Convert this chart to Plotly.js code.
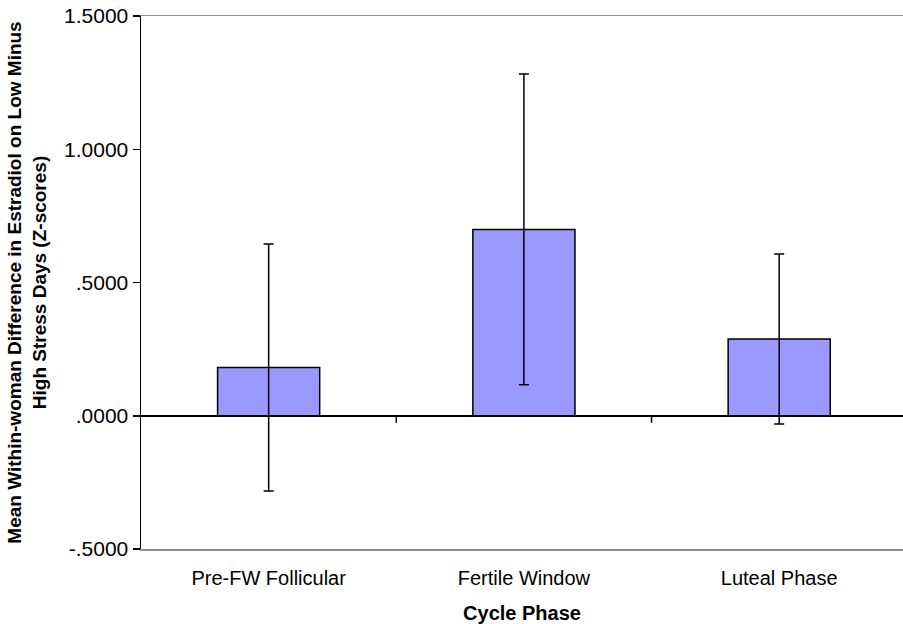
<!DOCTYPE html>
<html>
<head>
<meta charset="utf-8">
<script src="https://cdn.plot.ly/plotly-3.0.1.min.js"></script>
<style>html,body{margin:0;padding:0;background:#fff;}#chart{width:903px;height:624px;}</style>
</head>
<body>
<div id="chart"></div>
<script>
const categories = ["Pre-FW Follicular", "Fertile Window", "Luteal Phase"];
const meanDiff = [0.181, 0.699, 0.288];
const errorSize = [0.463, 0.583, 0.319];
const yTickVals = [-0.5, 0, 0.5, 1.0, 1.5];
const yTickText = ["-.5000", ".0000", ".5000", "1.0000", "1.5000"];

const font = "Liberation Sans, Arial, sans-serif";

const trace = {
  type: "bar",
  x: categories,
  y: meanDiff,
  width: 0.4,
  marker: { color: "#9999FF", line: { color: "#000000", width: 1.5 } },
  error_y: { type: "data", array: errorSize, visible: true, color: "#000000", thickness: 1.5, width: 5 },
  hoverinfo: "none"
};

const layout = {
  width: 903,
  height: 624,
  margin: { l: 141, r: 0, t: 16, b: 75 },
  paper_bgcolor: "#ffffff",
  plot_bgcolor: "#ffffff",
  showlegend: false,
  font: { family: font, size: 20, color: "#000000" },
  xaxis: {
    type: "category",
    range: [-0.5, 2.485],
    showgrid: false,
    zeroline: false,
    showline: true,
    linecolor: "#8c8c8c",
    linewidth: 1.5,
    mirror: true,
    ticks: "outside",
    ticklen: 10,
    tickcolor: "rgba(0,0,0,0)",
    tickfont: { family: font, size: 20, color: "#000000" },
    title: { text: "<b>Cycle Phase</b>", font: { family: font, size: 20, color: "#000000" }, standoff: 18 }
  },
  yaxis: {
    range: [-0.5, 1.5],
    tickvals: yTickVals,
    ticktext: yTickText,
    showgrid: false,
    zeroline: true,
    zerolinecolor: "#000000",
    zerolinewidth: 1.5,
    showline: true,
    linecolor: "#000000",
    linewidth: 1.5,
    ticks: "outside",
    ticklen: 7,
    tickwidth: 1.5,
    tickcolor: "#000000",
    tickfont: { family: font, size: 21, color: "#000000" },
    title: {
      text: "<b>Mean Within-woman Difference in Estradiol on Low Minus<br>High Stress Days (Z-scores)</b>",
      font: { family: font, size: 19, color: "#000000" },
      standoff: 12
    }
  },
  shapes: [0.5, 1.5].map(function (b) {
    return {
      type: "line", xref: "x", yref: "y", ysizemode: "pixel", yanchor: 0,
      x0: b, x1: b, y0: 0, y1: -7,
      line: { color: "#000000", width: 1.5 }
    };
  })
};

Plotly.newPlot("chart", [trace], layout, { displayModeBar: false, staticPlot: true });
</script>
</body>
</html>
